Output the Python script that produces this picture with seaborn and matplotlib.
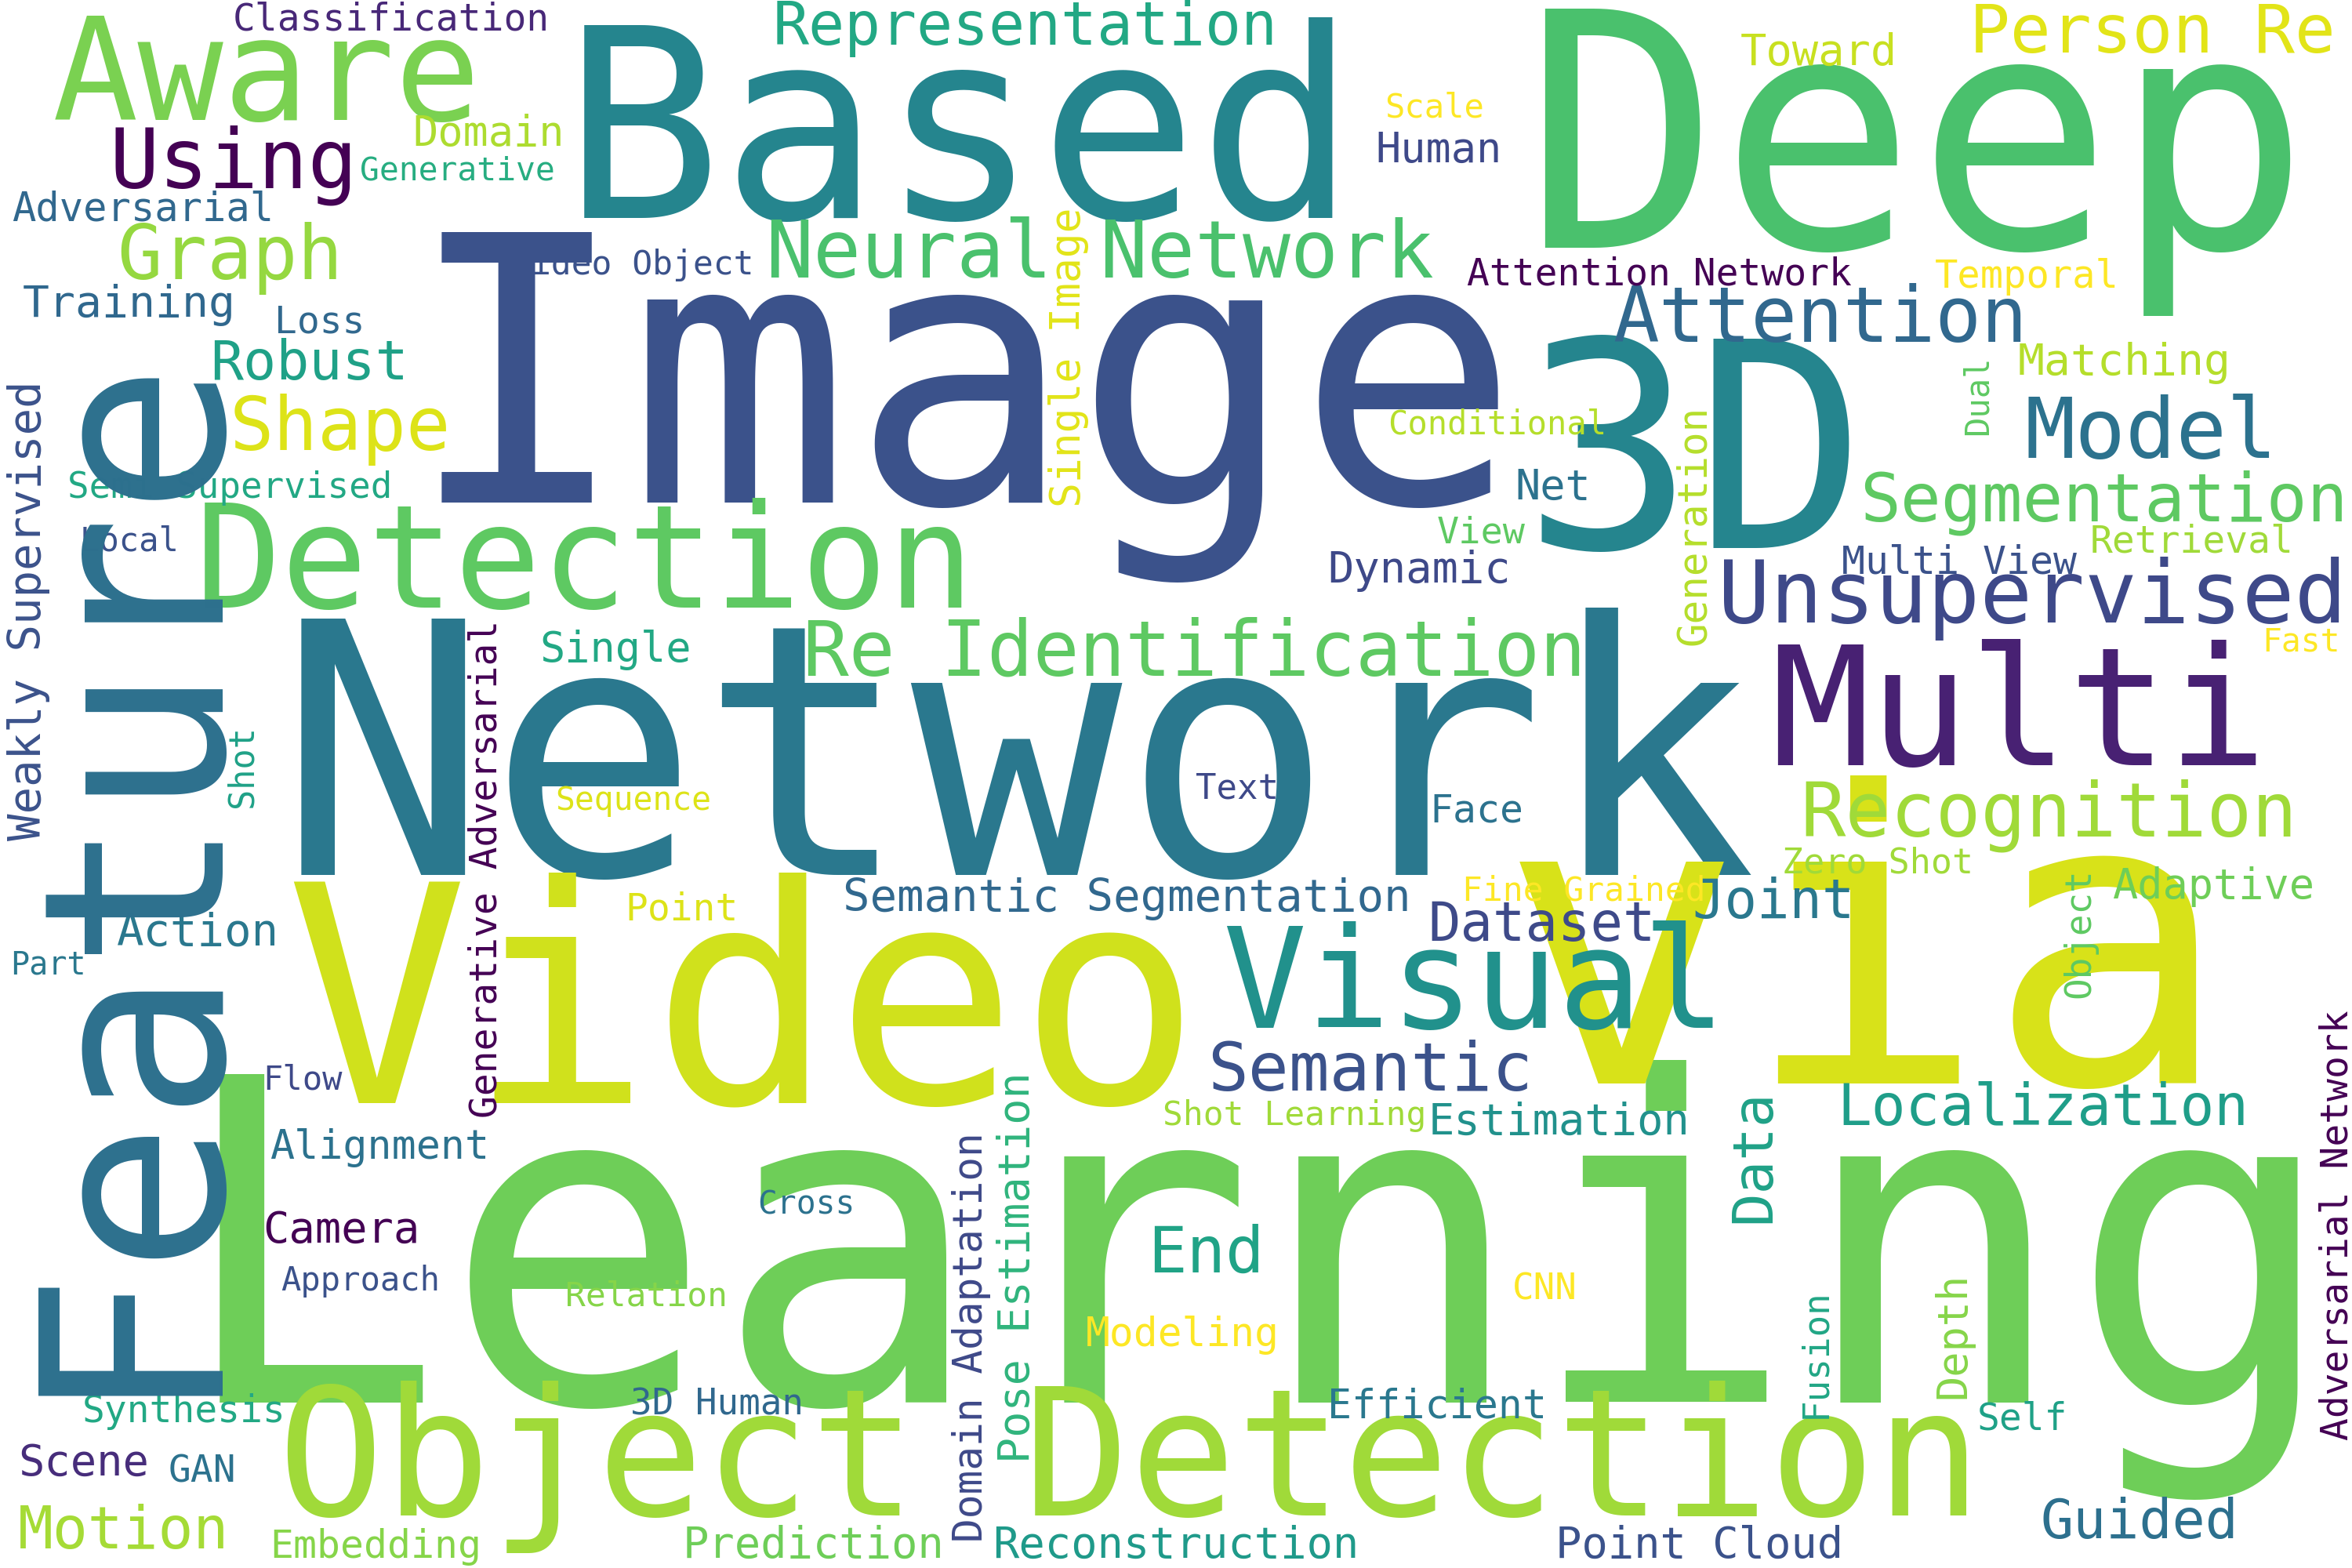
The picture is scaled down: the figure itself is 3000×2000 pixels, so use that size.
import matplotlib
matplotlib.use("Agg")
import matplotlib.pyplot as plt
import seaborn as sns

sns.set_theme(style="white")
plt.rcParams['font.family'] = ['DejaVu Sans Mono', 'DejaVu Sans']

# word, x, y, em size (px in 1568-wide frame), rotation, colour
words = ["Learning","Network","Image","Video","via","Based","Deep","3D","Multi","Object Detection",
 "Detection","Aware","Visual","Unsupervised","Recognition","Re Identification","Segmentation","Network","Neural",
 "Attention","Model","Semantic","Localization","Using","Graph","Shape","Person Re","Representation","Motion",
 "Guided","End","Dataset","Joint","Robust","Semantic Segmentation","Estimation","Reconstruction","Point Cloud",
 "Prediction","Embedding","Synthesis","Scene","GAN","3D Human","Efficient","Self","Camera","Approach","Alignment",
 "Flow","Action","Part","Point","Sequence","Single","Text","Face","Fine Grained","Zero Shot","Adaptive","Fast",
 "Multi View","Retrieval","Dynamic","View","Net","Conditional","Matching","Temporal","Attention Network","Human",
 "Scale","Toward","Domain","Generative","Classification","Adversarial","Training","Loss","Video Object",
 "Semi Supervised","Local","Cross","Relation","Modeling","CNN","Shot Learning",
 "Feature","Weakly Supervised","Generative Adversarial","Shot","Single Image","Domain Adaptation","Pose Estimation",
 "Data","Generation","Dual","Object","Adversarial Network","Fusion","Depth"]
xs = [115,185,270,190,1000,375,1015,1015,1180,185,
 130,35,815,1145,1200,535,1240,733,510,
 1075,1350,805,1225,73,78,153,1313,515,12,
 1360,765,952,1128,140,562,952,662,1037,
 455,180,55,12,112,420,885,1318,175,187,180,
 175,78,7,417,370,360,797,953,975,1188,1408,1508,
 1228,1393,885,958,1010,925,1345,1290,978,917,
 923,1160,275,240,155,8,15,183,340,
 45,53,505,377,724,1008,775,
 130,27,331,168,720,655,686,
 1180,1137,1325,1393,1565,1217,1310]
ys = [935,583,335,735,722,145,165,365,510,1010,
 405,80,685,415,557,450,347,185,185,
 228,305,727,750,125,186,300,35,30,1032,
 1025,848,627,612,253,607,756,1038,1038,
 1038,1038,948,983,988,943,945,953,828,860,772,
 726,630,649,613,540,441,532,548,600,582,599,434,
 382,368,388,362,333,289,250,192,190,108,
 78,43,97,120,20,147,211,222,183,
 332,367,809,870,897,866,750,
 930,560,745,538,338,1028,975,
 815,430,290,665,960,945,932]
ems = [300,234,247,203,270,176,218,191,110,118,
 96,95,93,58,50,51,45,53,53,
 51,56,45,38,55,50,49,45,40,39,
 36.5,43,36,36,36.5,30,29,29,29,
 29,26,25,29,25,24,27,25,29,22,27,
 22,30,21,25,21.6,28,23,26,22.5,23.5,28,21.6,
 26,25,29,24.5,28,22,29.5,25.5,25,28,
 22,29,28,21.6,25,26.4,29.5,25,22.5,
 24,22,21.6,22.4,26.8,24,22.4,
 168,30,25,22.8,27.7,26.7,28.8,
 37,26.6,22,24,25,24,28]
rots = [0]*87 + [90]*14
colors = ["#6ece58","#2a788e","#3b528b","#d0e11c","#d8e219","#25858e","#4ac16d","#25858e","#482173","#a0da39",
 "#5ec962","#7ad151","#21918c","#3e4989","#a0da39","#5ec962","#5ec962","#4ac16d","#4ac16d",
 "#31688e","#2c728e","#3b528b","#1f9e89","#440154","#95d840","#dde318","#e2e418","#22a884","#a5db36",
 "#2d708e","#20a386","#3e4a89","#2a788e","#1fa187","#31688e","#21918c","#1f9a8a","#3b528b",
 "#6ece58","#86d549","#22a884","#472d7b","#2c728e","#30688e","#2a788e","#1fa187","#440154","#3b528b","#2c728e",
 "#3e4989","#2a788e","#2a788e","#dde318","#dde318","#22a884","#3e4989","#2c728e","#fde725","#a0da39","#6ece58","#fde725",
 "#3b528b","#a0da39","#3e4989","#5ec962","#2c728e","#b5de2b","#b5de2b","#fde725","#440154","#3e4989",
 "#fde725","#c8e020","#addc30","#27ad81","#482878","#31688e","#30688e","#31688e","#3b528b",
 "#22a884","#3b528b","#2c728e","#86d549","#fde725","#fde725","#a0da39",
 "#2d708e","#3b528b","#440154","#1fa187","#e2e418","#3e4989","#2fb47c",
 "#1fa187","#b5de2b","#5ec962","#5ec962","#440154","#21a685","#86d549"]

W, H = 1568, 1045
fig = plt.figure(figsize=(30, 20), dpi=100)
ax = fig.add_axes([0, 0, 1, 1])
ax.set_xlim(0, W)
ax.set_ylim(H, 0)
ax.axis("off")
scale = 3000 / W * 0.72
for w, x, y, e, r, c in zip(words, xs, ys, ems, rots, colors):
    ax.text(x, y, w, fontsize=e * scale, color=c, rotation=r,
            rotation_mode="anchor", ha="left", va="baseline")
fig.savefig("out.png", dpi=100, facecolor="white")
